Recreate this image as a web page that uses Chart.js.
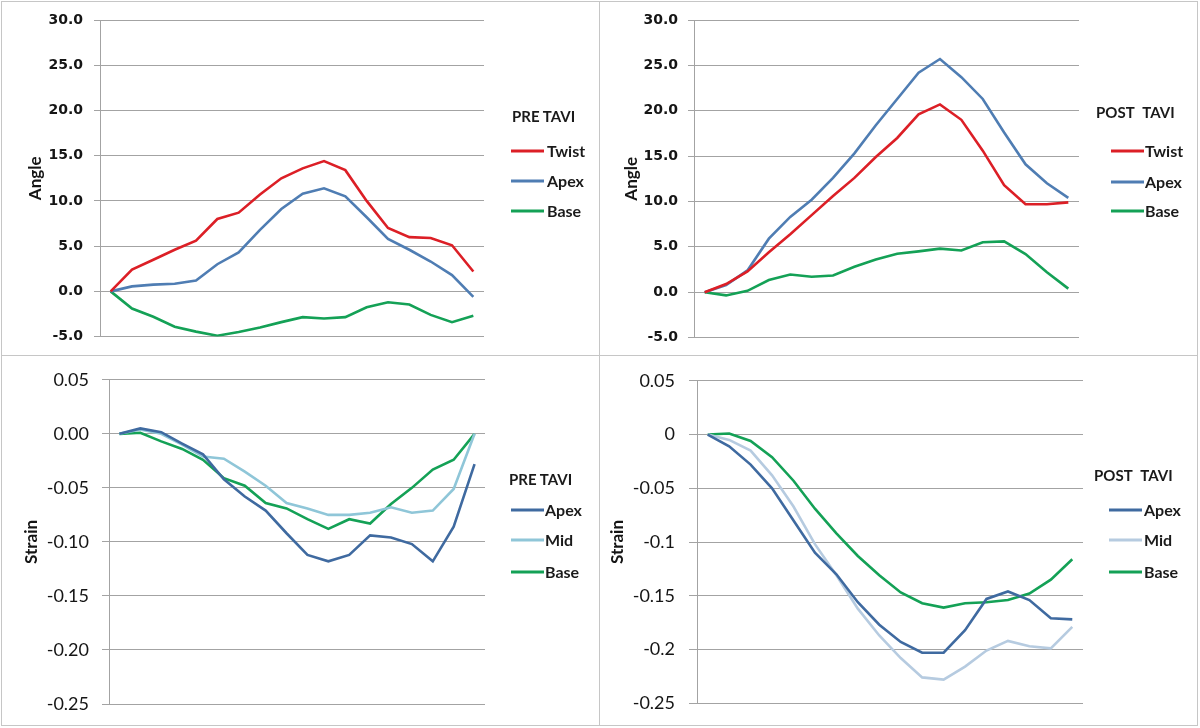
<!DOCTYPE html>
<html>
<head>
<meta charset="utf-8">
<script src="https://cdn.jsdelivr.net/npm/chart.js@4.4.1/dist/chart.umd.min.js"></script>
<style>
  html, body { margin: 0; padding: 0; background: #fff; }
  #wrap { position: relative; width: 1200px; height: 728px; overflow: hidden; }
  canvas { position: absolute; }
  .line { position: absolute; background: #c6c6c6; }
  .leg { position: absolute; font-family: Lato, sans-serif; font-weight: bold; color: #1a1a1a;
         white-space: nowrap; transform: translateY(-50%); line-height: 1; }
  .legTitle { font-size: 15px; }
  .legItem { font-size: 16px; }
  .swatch { position: absolute; width: 33px; height: 3px; transform: translateY(-50%); }
</style>
</head>
<body>
<div id="wrap">
  <canvas id="preAngle" width="600" height="356" style="left:0;top:0"></canvas>
  <canvas id="postAngle" width="600" height="356" style="left:600px;top:0"></canvas>
  <canvas id="preStrain" width="600" height="372" style="left:0;top:356px"></canvas>
  <canvas id="postStrain" width="600" height="372" style="left:600px;top:356px"></canvas>
  <div class="line" style="left:1px;top:1px;width:1197px;height:1px"></div>
  <div class="line" style="left:1px;top:725px;width:1197px;height:1px"></div>
  <div class="line" style="left:1px;top:1px;width:1px;height:725px"></div>
  <div class="line" style="left:1197px;top:1px;width:1px;height:725px"></div>
  <div class="line" style="left:599px;top:1px;width:1px;height:725px"></div>
  <div class="line" style="left:1px;top:355px;width:1197px;height:1px"></div>
</div>
<script>
const frames = ['1','2','3','4','5','6','7','8','9','10','11','12','13','14','15','16','17','18'];

// rotation angles, degrees
const preTwist = [0, 2.4, 3.5, 4.6, 5.6, 8.0, 8.7, 10.7, 12.5, 13.6, 14.4, 13.4, 10.0, 7.0, 6.0, 5.9, 5.1, 2.2];
const preApex = [0, 0.55, 0.75, 0.85, 1.2, 3.0, 4.3, 6.8, 9.1, 10.8, 11.4, 10.5, 8.2, 5.8, 4.6, 3.3, 1.8, -0.6];
const preBase = [0, -1.9, -2.8, -3.9, -4.45, -4.9, -4.5, -4.0, -3.4, -2.85, -3.0, -2.85, -1.75, -1.2, -1.45, -2.6, -3.4, -2.7];

const postTwist = [0, 0.9, 2.3, 4.4, 6.4, 8.5, 10.6, 12.6, 14.9, 17.0, 19.6, 20.7, 19.0, 15.6, 11.8, 9.7, 9.7, 9.9];
const postApex = [0, 0.8, 2.4, 5.9, 8.3, 10.2, 12.6, 15.3, 18.4, 21.3, 24.2, 25.7, 23.7, 21.3, 17.6, 14.1, 12.0, 10.4];
const postBase = [0, -0.35, 0.15, 1.35, 1.95, 1.7, 1.85, 2.8, 3.6, 4.25, 4.5, 4.8, 4.6, 5.5, 5.6, 4.2, 2.2, 0.4];

// strain
const preStrainApex = [0, 0.005, 0.0015, -0.009, -0.019, -0.042, -0.058, -0.071, -0.092, -0.112, -0.118, -0.112, -0.094, -0.096, -0.102, -0.118, -0.086, -0.028];
const preStrainMid = [0, 0.004, 0, -0.010, -0.021, -0.023, -0.035, -0.048, -0.064, -0.069, -0.075, -0.075, -0.073, -0.068, -0.073, -0.071, -0.051, 0];
const preStrainBase = [0, 0.001, -0.007, -0.014, -0.024, -0.041, -0.048, -0.064, -0.069, -0.079, -0.088, -0.079, -0.083, -0.065, -0.050, -0.033, -0.024, 0];

const postStrainApex = [0, -0.011, -0.028, -0.050, -0.080, -0.110, -0.130, -0.156, -0.177, -0.193, -0.203, -0.203, -0.182, -0.153, -0.146, -0.154, -0.171, -0.172];
const postStrainMid = [0, -0.005, -0.015, -0.038, -0.067, -0.102, -0.131, -0.162, -0.187, -0.208, -0.226, -0.228, -0.216, -0.201, -0.192, -0.197, -0.199, -0.179];
const postStrainBase = [0, 0.001, -0.006, -0.021, -0.043, -0.069, -0.092, -0.113, -0.131, -0.147, -0.157, -0.161, -0.157, -0.156, -0.154, -0.148, -0.135, -0.116];

const angleNames = ['Twist', 'Apex', 'Base'];
const strainNames = ['Apex', 'Mid', 'Base'];

const RED = '#dc1f26', BLUE = '#4f7db3', GREEN = '#14a156', DARKBLUE = '#3f6aa0';

// avoid "-0.00" from float noise
const clean = v => (Math.abs(v) < 1e-9 ? 0 : v);

const buildChart = (id, cfg) => {
    const ctx = document.getElementById(id).getContext('2d');
    return new Chart(ctx, {
        type: 'line',
        data: {
            labels: frames,
            datasets: cfg.series.map((s, i) => ({
                label: cfg.names[i],
                data: s,
                borderColor: cfg.colors[i],
                borderWidth: 2.6,
                pointRadius: 0,
                tension: 0,
                fill: false
            }))
        },
        options: {
            responsive: false,
            animation: false,
            layout: { padding: cfg.pad },
            plugins: { legend: { display: false }, tooltip: { enabled: false } },
            scales: {
                x: { display: false, offset: true },
                y: {
                    min: cfg.min,
                    max: cfg.max,
                    afterFit: scale => { scale.width = cfg.axisWidth; },
                    ticks: { stepSize: cfg.step, padding: cfg.tickPad, color: '#151515', font: cfg.tickFont, callback: cfg.fmt },
                    grid: { color: '#a3a3a3', lineWidth: 1, tickLength: cfg.tickLen },
                    border: { color: '#a3a3a3', width: 1 },
                    title: {
                        display: true, text: cfg.title, color: '#151515',
                        font: { family: 'Lato', size: 17, weight: 'bold' },
                        padding: { top: cfg.titleTop, bottom: 0 }
                    }
                }
            }
        }
    });
};

// legend drawn as plain text next to each plot
const addLegend = (title, names, colors, tx, ty, sx, textX, ys, wordGap) => {
    const wrap = document.getElementById('wrap');
    const t = document.createElement('div');
    t.className = 'leg legTitle';
    t.style.left = tx + 'px';
    t.style.top = ty + 'px';
    t.style.wordSpacing = wordGap + 'px';
    t.textContent = title;
    wrap.appendChild(t);
    names.forEach((n, i) => {
        const sw = document.createElement('div');
        sw.className = 'swatch';
        sw.style.left = sx + 'px';
        sw.style.top = ys[i] + 'px';
        sw.style.background = colors[i];
        wrap.appendChild(sw);
        const lab = document.createElement('div');
        lab.className = 'leg legItem';
        lab.style.left = textX + 'px';
        lab.style.top = ys[i] + 'px';
        lab.textContent = n;
        wrap.appendChild(lab);
    });
};

const angleTickFont = { family: 'DejaVu Sans', size: 14, weight: 'bold' };
const strainTickFont = { family: 'Lato', size: 18 };

buildChart('preAngle', {
    series: [preTwist, preApex, preBase], names: angleNames, colors: [RED, BLUE, GREEN],
    min: -5, max: 30, step: 5, fmt: v => clean(v).toFixed(1), tickFont: angleTickFont,
    axisWidth: 100, pad: { top: 20, bottom: 15, left: 0, right: 116 },
    tickLen: 6, tickPad: 11, title: 'Angle', titleTop: 25
});
buildChart('postAngle', {
    series: [postTwist, postApex, postBase], names: angleNames, colors: [RED, BLUE, GREEN],
    min: -5, max: 30, step: 5, fmt: v => clean(v).toFixed(1), tickFont: angleTickFont,
    axisWidth: 94, pad: { top: 20, bottom: 15, left: 0, right: 121 },
    tickLen: 6, tickPad: 10, title: 'Angle', titleTop: 21
});
buildChart('preStrain', {
    series: [preStrainApex, preStrainMid, preStrainBase], names: strainNames, colors: [DARKBLUE, '#8fc6d8', GREEN],
    min: -0.25, max: 0.05, step: 0.05, fmt: v => clean(v).toFixed(2), tickFont: strainTickFont,
    axisWidth: 109, pad: { top: 21, bottom: 24, left: 0, right: 115 },
    tickLen: 7, tickPad: 13, title: 'Strain', titleTop: 21
});
buildChart('postStrain', {
    series: [postStrainApex, postStrainMid, postStrainBase], names: strainNames, colors: [DARKBLUE, '#b6cbe0', GREEN],
    min: -0.25, max: 0.05, step: 0.05, fmt: v => String(+clean(v).toFixed(2)), tickFont: strainTickFont,
    axisWidth: 97, pad: { top: 21, bottom: 24, left: 0, right: 117 },
    tickLen: 8, tickPad: 14, title: 'Strain', titleTop: 7
});

addLegend('PRE TAVI', angleNames, [RED, BLUE, GREEN], 512, 116, 511, 547, [151, 181, 211], 0);
addLegend('POST TAVI', angleNames, [RED, BLUE, GREEN], 1096, 112, 1111, 1145, [151, 182, 211], 5);
addLegend('PRE TAVI', strainNames, [DARKBLUE, '#8fc6d8', GREEN], 509, 479, 511, 545, [510, 540, 572], 0);
addLegend('POST TAVI', strainNames, [DARKBLUE, '#b6cbe0', GREEN], 1094, 475, 1109, 1144, [510, 540, 572], 5);
</script>
</body>
</html>
